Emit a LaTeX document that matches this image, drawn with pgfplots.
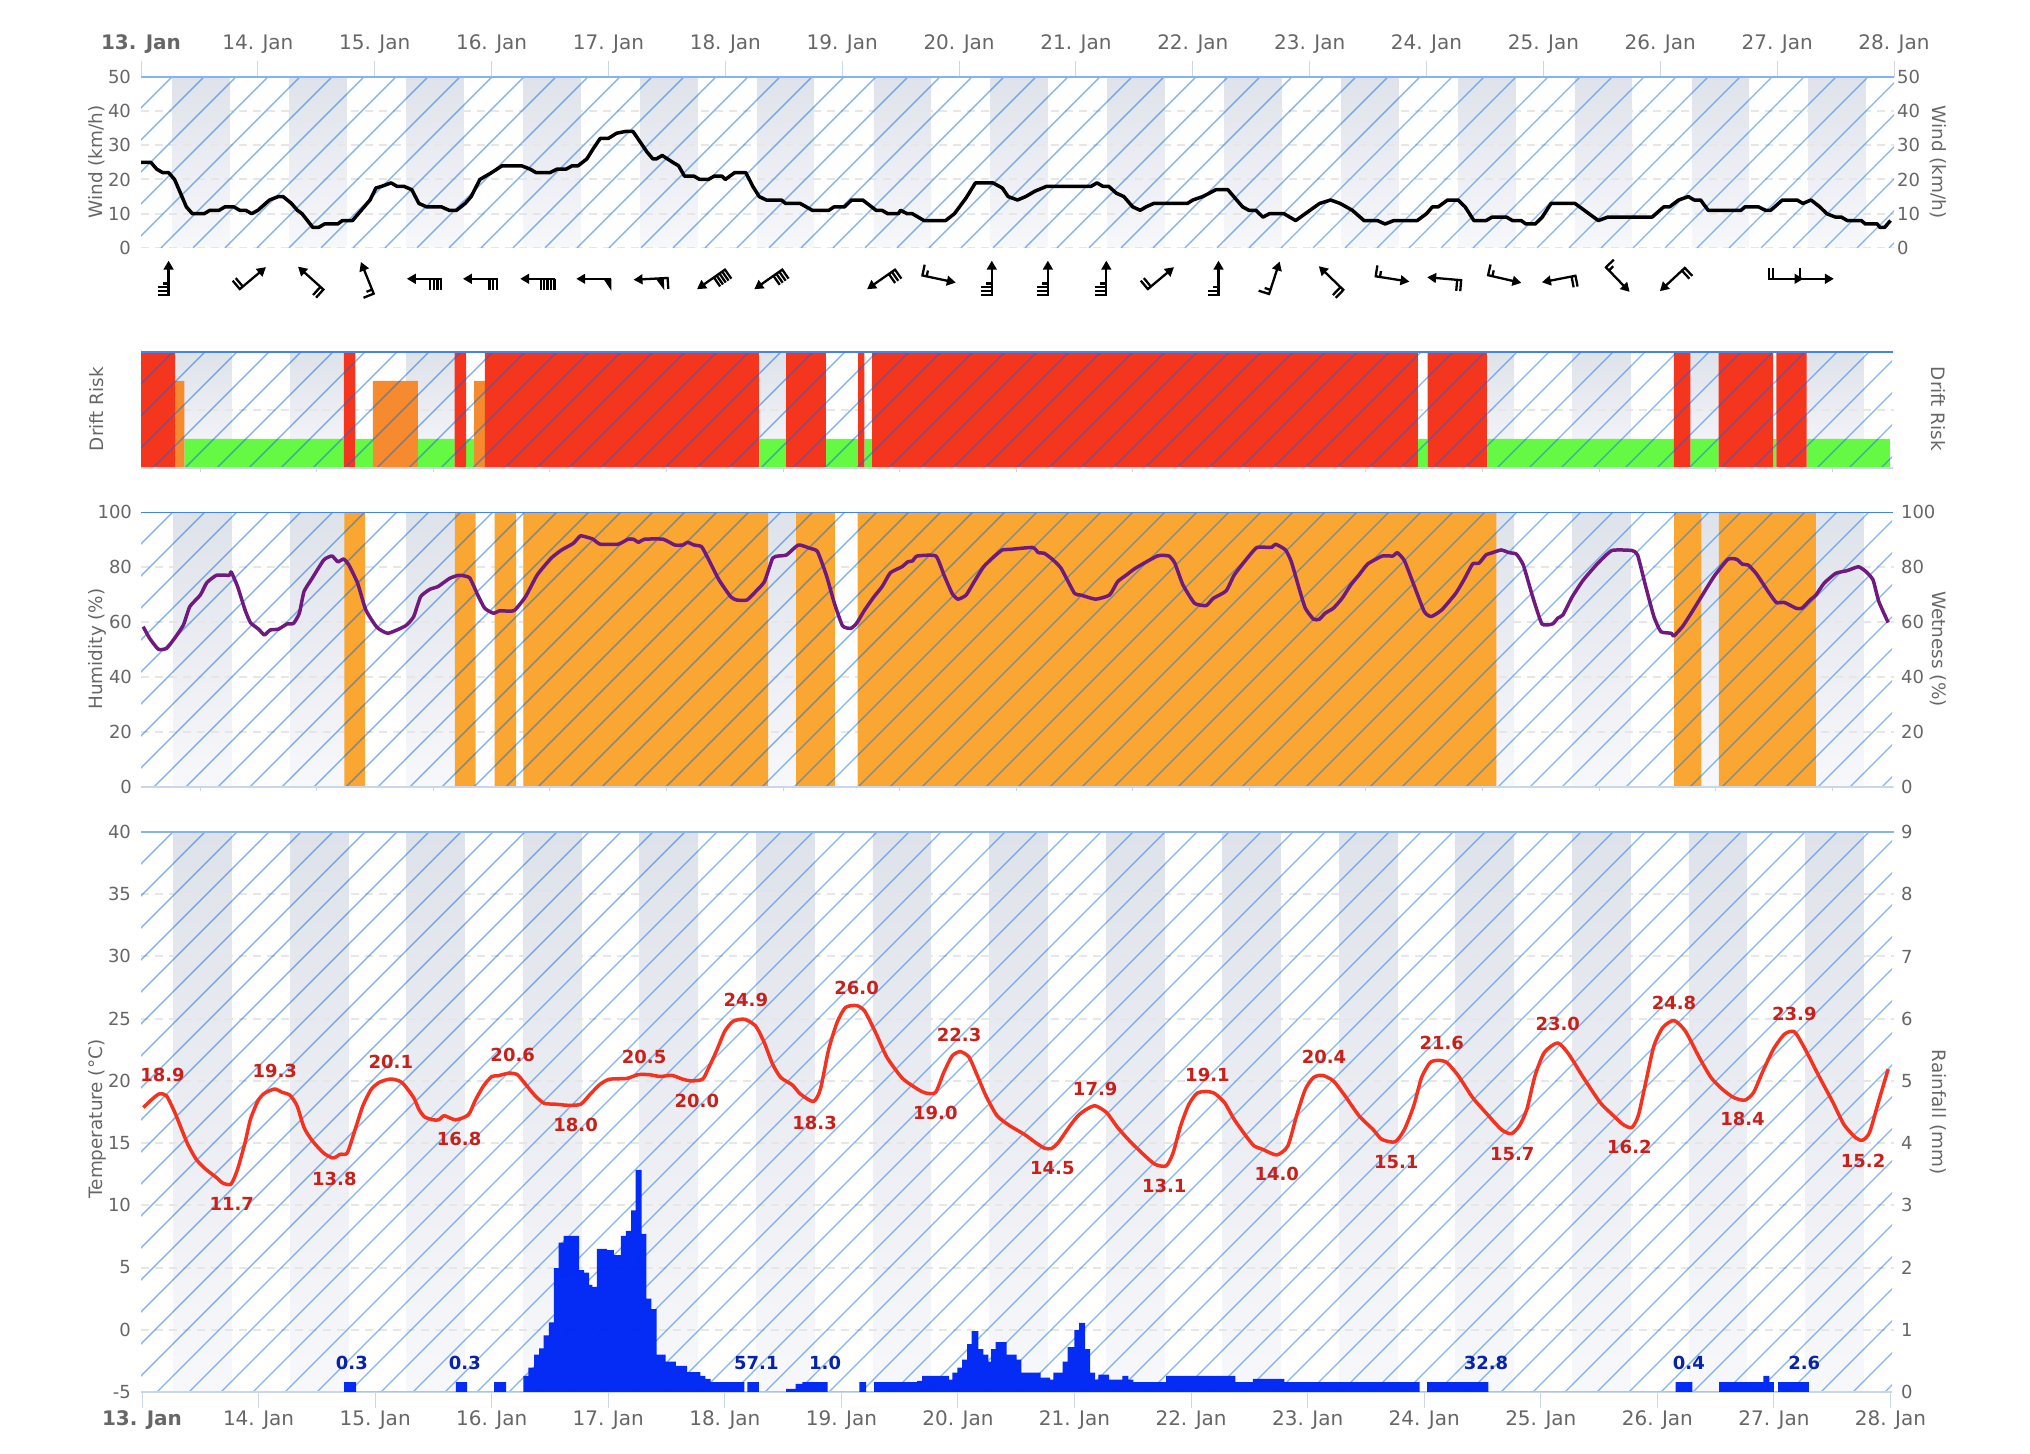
\documentclass[border=0pt]{standalone}
\usepackage{fontspec}
\setmainfont{DejaVu Sans}
\usepackage{pgfplots}
\pgfplotsset{compat=1.18}
\definecolor{bandtop}{HTML}{DEE2EA}
\definecolor{bandbot}{HTML}{F7F8FB}
\definecolor{gridc}{HTML}{E6E6E6}
\definecolor{axisc}{HTML}{CCD6EB}
\definecolor{tickc}{HTML}{666666}
\definecolor{hatchc}{HTML}{0B67E1}
\definecolor{topc}{HTML}{85B3F0}
\definecolor{topd}{HTML}{3F84EF}
\definecolor{redbar}{HTML}{F4361F}
\definecolor{orbar}{HTML}{F58A2E}
\definecolor{grbar}{HTML}{66F943}
\definecolor{orwet}{HTML}{F9A632}
\definecolor{rainc}{HTML}{0028F5}
\definecolor{rainl}{HTML}{0A22A8}
\definecolor{templ}{HTML}{F5311F}
\definecolor{tempt}{HTML}{C8201A}
\definecolor{humc}{HTML}{6F1A80}

\newcommand\tickfont{\fontsize{10}{12}\selectfont}
\newcommand\ynumfont{\fontsize{9}{11}\selectfont}
\tikzset{
  pix/.style={x=0.5pt,y=-0.5pt,shift={(0pt,727pt)}},
  hatchline/.style={draw=hatchc,opacity=0.5,line width=0.7pt},
}
\pgfplotsset{
  panel/.style={
    scale only axis,width=876.5pt,anchor=south west,
    xmin=-0.0086,xmax=15.03,
    axis line style={draw=none},
    tick align=outside,
    major tick length=2pt,
    xtick={0.5,1.5,...,14.5},xticklabels={},
    xtick pos=bottom,ytick pos=left,
    x tick style={draw=axisc,line width=0.5pt},
    y tick style={draw=none},
    x tick label style={font=\tickfont,text=tickc},
    y tick label style={font=\ynumfont,text=tickc},
    /pgf/number format/assume math mode=true,
  },
  over/.style={
    scale only axis,width=876.5pt,anchor=south west,
    xmin=-0.0086,xmax=15.03,
    axis line style={draw=none},
    tick align=outside,major tick length=2pt,
    xtick=\empty,
    y tick style={draw=none},
    y tick label style={font=\ynumfont,text=tickc},
    /pgf/number format/assume math mode=true,
    clip=false,
  },
  gridl/.style={draw=gridc,line width=1pt,dash pattern=on 4pt off 3pt,forget plot},
  dates/.style={xtick={0,...,15},
    xticklabels={\textbf{13. Jan},14. Jan,15. Jan,16. Jan,17. Jan,18. Jan,19. Jan,20. Jan,21. Jan,22. Jan,23. Jan,24. Jan,25. Jan,26. Jan,27. Jan,28. Jan}},
}
\newcommand\bands[4]{\pgfplotsinvokeforeach{0,...,14}{%
  \shade[top color=bandtop,bottom color=bandbot] (axis cs:##1.#3,#1) rectangle (axis cs:##1.#4,#2);}}
\newcommand\gridat[3]{\pgfplotsinvokeforeach{#1}{%
  \addplot[gridl] coordinates {(#2,##1) (#3,##1)};}}
\newcommand\hatch[6]{\begin{scope}[pix]
  \clip (#1,#3) rectangle (#2,#4);
  \foreach \c [evaluate=\c as \xa using \c-#3, evaluate=\c as \xb using \c-#4] in {#5,...,#6}
    {\draw[hatchline] (\xa,#3) -- (\xb,#4);}
\end{scope}}

% wind barbs, drawn pointing up, centred on the shaft
\newcommand\barbmark[3]{\pgfdeclareplotmark{#1}{%
  \pgfpathmoveto{\pgfqpoint{0pt}{-8.5pt}}\pgfpathlineto{\pgfqpoint{0pt}{6pt}}#2\pgfusepathqstroke
  \pgfpathmoveto{\pgfqpoint{0pt}{9pt}}\pgfpathlineto{\pgfqpoint{-2.6pt}{4.6pt}}\pgfpathlineto{\pgfqpoint{2.6pt}{4.6pt}}\pgfpathclose
  #3\pgfusepathqfill}}
\newcommand\lng[1]{\pgfpathmoveto{\pgfqpoint{0pt}{#1pt}}\pgfpathlineto{\pgfqpoint{-5.5pt}{#1pt}}}
\newcommand\shrt[1]{\pgfpathmoveto{\pgfqpoint{0pt}{#1pt}}\pgfpathlineto{\pgfqpoint{-3pt}{#1pt}}}
\newcommand\penn[3]{\pgfpathmoveto{\pgfqpoint{0pt}{#1pt}}\pgfpathlineto{\pgfqpoint{-6pt}{#2pt}}\pgfpathlineto{\pgfqpoint{0pt}{#3pt}}\pgfpathclose}
\barbmark{b1}{\lng{-8}}{}
\barbmark{b1s}{\lng{-8}\shrt{-5.8}}{}
\barbmark{b2}{\lng{-8}\lng{-6}}{}
\barbmark{b2s}{\lng{-8}\lng{-6}\shrt{-4}}{}
\barbmark{b3}{\lng{-8}\lng{-6.1}\lng{-4.2}}{}
\barbmark{b3s}{\lng{-8}\lng{-6.1}\lng{-4.2}\shrt{-2.3}}{}
\barbmark{b4}{\lng{-8}\lng{-6.2}\lng{-4.4}\lng{-2.6}}{}
\barbmark{b5}{\lng{-8}\lng{-6.3}\lng{-4.6}\lng{-2.9}\lng{-1.2}}{}
\barbmark{bp}{}{\penn{-8.5}{-8.5}{-4.5}}
\barbmark{b1p}{\lng{-8}}{\penn{-6}{-6}{-2}}
\newcommand\barb[3]{\addplot[only marks,mark=#2,
  mark options={rotate=#3,solid,draw=black,fill=black,line width=1.15pt}] coordinates {(#1,-9)};}

\begin{document}
\begin{tikzpicture}
\path[pix] (0,0) rectangle (2030,1454);

% ---- wind
\begin{axis}[panel,dates,at={(70.5pt,603pt)},height=85.65pt,xmin=0,xmax=15,ymin=0,ymax=50,
  major tick length=8pt,xtick pos=top,xticklabel pos=top,
  ytick={0,10,20,30,40,50},
  yticklabel style={xshift=6.5pt},xticklabel style={yshift=0pt}]
\bands{0}{50}{27}{76}
\gridat{0,10,20,30,40}{0}{15}
\end{axis}
\hatch{141}{1894}{76.7}{248}{217,249}{2142}
\draw[pix,draw=topc,line width=1pt] (141,76.7) -- (1894,76.7);
\begin{axis}[over,at={(70.5pt,603pt)},height=85.65pt,xmin=0,xmax=15,ymin=0,ymax=50,
  ytick={0,10,20,30,40,50},ytick pos=right,yticklabel pos=right,yticklabel style={xshift=-4pt}]
\addplot[black,line width=1.75pt,line join=round] coordinates {
(0,25)(.084,25)(.135,23)(.185,22)(.236,22)(.287,20)(.338,16)(.388,12)(.44,10)(.54,10)(.59,11)(.668,11)(.718,12)(.794,12)(.845,11)(.896,11)(.947,10)(1,11)(1.1,14)(1.175,15)(1.216,15)(1.287,13)(1.338,11)(1.378,10)(1.47,6)(1.52,6)(1.57,7)(1.683,7)(1.723,8)(1.81,8)(1.86,10)(1.91,12)(1.96,14)(2.01,17.5)(2.06,18)(2.14,19)(2.19,18)(2.25,18)(2.317,17)(2.378,13)(2.444,12)(2.57,12)(2.637,11)(2.7,11)(2.774,13)(2.825,15)(2.9,20)(3,22)(3.09,24)(3.256,24)(3.33,23)(3.38,22)(3.5,22)(3.56,23)(3.637,23)(3.69,24)(3.74,24)(3.815,26)(3.87,29)(3.93,32)(4,32)(4.07,33.5)(4.145,34)(4.21,34)(4.27,31)(4.33,28)(4.38,26)(4.41,26)(4.46,27)(4.55,25)(4.6,24)(4.65,21)(4.73,21)(4.78,20)(4.855,20)(4.906,21)(4.97,21)(5,20)(5.08,22)(5.175,22)(5.235,18)(5.29,15)(5.35,14)(5.48,14)(5.515,13)(5.64,13)(5.744,11)(5.886,11)(5.93,12)(6.02,12)(6.08,14)(6.175,14)(6.29,11)(6.34,11)(6.39,10)(6.48,10)(6.5,11)(6.555,10)(6.6,10)(6.7,8)(6.885,8)(6.96,10)(7.06,14.6)(7.14,19)(7.29,19)(7.37,17.5)(7.42,15)(7.5,14)(7.57,15)(7.65,16.6)(7.75,18)(8.13,18)(8.18,19)(8.23,18)(8.28,18)(8.345,16)(8.41,15)(8.486,12)(8.55,11)(8.6,12)(8.665,13)(8.954,13)(9,14)(9.085,15)(9.197,17)(9.3,17)(9.35,15)(9.426,12)(9.48,11)(9.54,11)(9.6,9)(9.655,10)(9.78,10)(9.88,8)(10.085,13)(10.18,14)(10.26,13)(10.365,11)(10.465,8)(10.58,8)(10.645,7)(10.72,8)(10.92,8)(11,10)(11.05,12)(11.1,12)(11.18,14)(11.27,14)(11.33,12)(11.405,8)(11.51,8)(11.56,9)(11.685,9)(11.735,8)(11.81,8)(11.85,7)(11.93,7)(11.99,9)(12.065,13)(12.27,13)(12.47,8)(12.55,9)(12.93,9)(13.03,12)(13.08,12)(13.157,14)(13.24,15)(13.29,14)(13.345,14)(13.41,11)(13.69,11)(13.725,12)(13.84,12)(13.9,11)(13.945,11)(14.045,14)(14.17,14)(14.22,13)(14.29,14)(14.365,12)(14.425,10)(14.5,9)(14.55,9)(14.6,8)(14.72,8)(14.755,7)(14.857,7)(14.88,6)(14.92,6)(14.97,8)
};
\barb{.236}{b3s}{0}
\barb{.95}{b2}{-50}
\barb{1.459}{b2}{48}
\barb{1.94}{b1s}{22}
\barb{2.43}{b4}{90}
\barb{2.91}{b3}{90}
\barb{3.40}{b5}{90}
\barb{3.88}{bp}{90}
\barb{4.37}{b1p}{93}
\barb{4.885}{b5}{125}
\barb{5.375}{b4}{125}
\barb{6.34}{b3}{125}
\barb{6.82}{b1s}{-102}
\barb{7.28}{b3s}{0}
\barb{7.76}{b3s}{0}
\barb{8.26}{b3s}{0}
\barb{8.72}{b2}{-50}
\barb{9.22}{b2s}{0}
\barb{9.695}{b1s}{-18}
\barb{10.19}{b2}{46}
\barb{10.7}{b1s}{-99}
\barb{11.16}{b2}{85}
\barb{11.66}{b1s}{-103}
\barb{12.14}{b2}{101}
\barb{12.63}{b1s}{-136}
\barb{13.11}{b2}{133}
\barb{14.07}{b2}{-90}
\barb{14.33}{b1}{-90}
\end{axis}

% ---- drift risk
\begin{axis}[panel,at={(70.5pt,493pt)},height=58pt,ymin=0,ymax=4,ytick=\empty]
\bands{0}{4}{27}{77}
\gridat{2}{-0.0086}{15.03}
\addplot[const plot mark left,fill=grbar,draw=none] coordinates {
(.364,1)(1.732,0)(1.831,1)(1.981,0)(2.367,1)(2.682,0)(2.781,1)(2.85,0)(5.293,1)(5.525,0)(5.866,1)(6.143,0)(6.197,1)(6.263,0)(10.945,1)(11.03,0)(11.537,1)(13.142,0)(13.282,1)(13.525,0)(13.993,1)(14.02,0)(14.28,1)(14.995,0)} \closedcycle;
\addplot[const plot mark left,fill=orbar,draw=none] coordinates {
(.284,3)(.364,0)(1.981,3)(2.367,0)(2.85,3)(2.942,0)} \closedcycle;
\addplot[const plot mark left,fill=redbar,draw=none] coordinates {
(-.0086,4)(.284,0)(1.732,4)(1.831,0)(2.682,4)(2.781,0)(2.942,4)(5.293,0)(5.525,4)(5.866,0)(6.143,4)(6.197,0)(6.263,4)(10.945,0)(11.03,4)(11.537,0)(13.142,4)(13.282,0)(13.525,4)(13.993,0)(14.02,4)(14.28,0)} \closedcycle;
\end{axis}
\hatch{141}{1892}{352}{468}{493,525}{2362}
\draw[pix,draw=topd,line width=.75pt] (141,352) -- (1893,352);
\draw[pix,draw=axisc,line width=1pt] (141,468) -- (1893,468);

% ---- humidity / wetness
\begin{axis}[panel,at={(70.5pt,333.35pt)},height=137.5pt,ymin=0,ymax=100,
  ytick={0,20,40,60,80,100},yticklabel style={xshift=1pt}]
\bands{0}{100}{27}{77}
\gridat{0,20,40,60,80}{-0.0086}{15.03}
\addplot[const plot mark left,fill=orwet,draw=none] coordinates {
(1.736,100)(1.914,0)(2.684,100)(2.863,0)(3.026,100)(3.209,0)(3.272,100)(5.371,0)(5.612,100)(5.944,0)(6.14,100)(11.619,0)(13.143,100)(13.377,0)(13.528,100)(14.36,0)} \closedcycle;
\end{axis}
\hatch{141}{1892}{512.3}{787.3}{653,685}{2682}
\draw[pix,draw=topd,line width=.75pt] (141,512.3) -- (1893,512.3);
\draw[pix,draw=axisc,line width=1pt] (141,787.3) -- (1893,787.3);
\begin{axis}[over,at={(70.5pt,333.35pt)},height=137.5pt,ymin=0,ymax=100,
  ytick={0,20,40,60,80,100},ytick pos=right,yticklabel pos=right,yticklabel style={xshift=-2pt}]
\addplot[humc,line width=1.75pt,line join=round,smooth,tension=.3] coordinates {
(.01,58.4)(.065,54.2)(.14,50.2)(.21,50.5)(.28,54.2)(.355,59)(.41,65.7)(.5,69.9)(.556,74.4)(.64,77.1)(.75,77.1)(.765,78.3)(.82,73)(.884,64.5)(.93,59.9)(1,57.5)(1.05,55.4)(1.1,57.2)(1.17,57.5)(1.245,59.4)(1.3,59.6)(1.35,63.3)(1.39,71.2)(1.46,76)(1.56,82.7)(1.63,84.1)(1.68,82)(1.73,83)(1.775,80.8)(1.85,74.2)(1.92,64.5)(2.015,58.2)(2.11,56)(2.26,58.7)(2.33,62)(2.39,69.3)(2.47,72)(2.54,73)(2.64,76)(2.72,77.1)(2.81,76.2)(2.88,69.9)(2.94,65.1)(3.015,63.3)(3.07,64.2)(3.19,64.2)(3.29,69.3)(3.39,77.2)(3.51,83.3)(3.6,86.3)(3.7,88.7)(3.76,91.4)(3.82,90.9)(3.87,90.2)(3.93,88.4)(4.085,88.4)(4.17,90.2)(4.215,90.2)(4.26,89.1)(4.31,90.2)(4.47,90.2)(4.57,88.1)(4.64,88.1)(4.68,89.1)(4.735,88.1)(4.8,87.5)(4.855,83.3)(4.95,75.4)(5.05,69.3)(5.1,68.1)(5.19,68.1)(5.265,71.2)(5.34,74.8)(5.41,83.3)(5.46,84.1)(5.53,84.5)(5.63,88.1)(5.73,86.9)(5.795,85.7)(5.87,77.2)(5.94,66.9)(6.01,58.7)(6.08,57.8)(6.13,59.6)(6.2,64.5)(6.28,69.3)(6.35,73)(6.42,78)(6.52,80.2)(6.57,82)(6.61,82.3)(6.65,84.1)(6.81,84.1)(6.88,77.2)(6.95,70.5)(7,68.4)(7.07,69.9)(7.14,74.8)(7.22,80.2)(7.31,83.9)(7.38,86.3)(7.447,86.5)(7.64,87.2)(7.69,85.3)(7.74,85.1)(7.81,82.9)(7.885,79.6)(8,70.5)(8.055,69.9)(8.18,68.4)(8.3,69.9)(8.37,74.8)(8.445,77.2)(8.52,79.6)(8.71,84.1)(8.81,84.1)(8.86,81.5)(8.93,73.6)(9.03,66.9)(9.13,66.1)(9.19,68.7)(9.3,71.4)(9.37,77.2)(9.47,82.7)(9.565,87.2)(9.69,87.2)(9.725,88.4)(9.81,86.3)(9.86,82)(9.93,71.8)(9.98,65.1)(10.05,61.1)(10.1,61.1)(10.15,63.3)(10.22,65.1)(10.295,68.7)(10.37,73.6)(10.44,77.2)(10.515,81.2)(10.64,84.1)(10.73,84.1)(10.77,85.3)(10.83,82.4)(10.9,74.8)(11,63.9)(11.06,62.1)(11.15,64.5)(11.27,70.5)(11.34,75.4)(11.415,81.2)(11.47,81.5)(11.53,84.5)(11.585,85.3)(11.66,86.3)(11.73,85.3)(11.79,84.8)(11.85,80.8)(11.93,69.3)(12.01,59.4)(12.1,59.4)(12.145,61.5)(12.19,62.7)(12.27,69.3)(12.365,75.4)(12.49,81.5)(12.61,86.1)(12.78,86.1)(12.83,84.5)(12.9,73)(12.97,62.1)(13.03,56.6)(13.12,56)(13.14,55)(13.215,58.4)(13.29,63.3)(13.36,68.1)(13.485,76.6)(13.605,82.9)(13.68,82.9)(13.73,81.1)(13.78,80.8)(13.85,77.6)(13.95,71.2)(14.02,67.2)(14.09,67.2)(14.19,65.1)(14.24,65.1)(14.31,68.1)(14.36,69.9)(14.43,74.2)(14.53,77.8)(14.63,78.8)(14.725,80.2)(14.79,78.4)(14.85,75.4)(14.9,67.5)(14.98,59.9)
};
\end{axis}

% ---- temperature / rainfall
\begin{axis}[panel,dates,at={(70.5pt,31pt)},height=280pt,ymin=-5,ymax=40,
  major tick length=8pt,
  ytick={-5,0,5,10,15,20,25,30,35,40},yticklabel style={xshift=6.5pt},xticklabel style={yshift=2pt}]
\bands{-5}{40}{27}{77}
\gridat{0,5,10,15,20,25,30,35,40}{-0.0086}{15.03}
\end{axis}
\hatch{141}{1892}{832}{1392}{973,1005}{3286}
\draw[pix,draw=topc,line width=1pt] (141,832) -- (1894,832);
\draw[pix,draw=axisc,line width=1pt] (141,1392) -- (1892,1392);
\begin{axis}[over,at={(70.5pt,31pt)},height=280pt,ymin=0,ymax=9,
  ytick={0,1,2,3,4,5,6,7,8,9},ytick pos=right,yticklabel pos=right,yticklabel style={xshift=-2pt}]
\addplot[const plot mark left,fill=rainc,draw=none,fill opacity=.98] coordinates {
(1.733,.16)(1.836,0)(2.693,.16)(2.79,0)(3.02,.16)(3.123,0)(3.271,.26)(3.315,.39)(3.363,.6)(3.407,.7)(3.446,.91)(3.49,1.12)(3.534,1.99)(3.573,2.4)(3.617,2.51)(3.749,1.96)(3.792,1.92)(3.836,1.72)(3.863,1.69)(3.902,2.3)(3.99,2.28)(4.047,2.2)(4.108,2.51)(4.151,2.59)(4.195,2.92)(4.234,3.57)(4.287,2.54)(4.326,1.5)(4.37,1.33)(4.414,.6)(4.493,.49)(4.58,.42)(4.676,.32)(4.79,.26)(4.834,.21)(4.878,.16)(5.167,0)(5.193,.16)(5.293,0)(5.525,.05)(5.608,.13)(5.665,.16)(5.882,0)(6.154,.16)(6.211,0)(6.28,.16)(6.649,.18)(6.692,.26)(6.923,.2)(6.952,.31)(6.995,.39)(7.035,.52)(7.078,.77)(7.118,.98)(7.175,.69)(7.218,.6)(7.261,.49)(7.284,.69)(7.324,.8)(7.418,.6)(7.504,.52)(7.544,.31)(7.71,.23)(7.79,.2)(7.818,.31)(7.898,.49)(7.941,.72)(7.998,1)(8.039,1.11)(8.09,.69)(8.133,.31)(8.176,.2)(8.204,.28)(8.296,.2)(8.41,.26)(8.462,.2)(8.505,.16)(8.785,.26)(9.38,.16)(9.53,.21)(9.8,.16)(10.96,0)(11.025,.16)(11.55,0)(13.157,.16)(13.3,0)(13.53,.16)(13.91,.26)(13.96,.16)(14,0)(14.035,.16)(14.3,0)} \closedcycle;
\tikzset{rl/.style={font=\fontsize{9}{11}\selectfont\bfseries,text=rainl,inner sep=0pt}}
\node[rl] at (axis cs:1.80,.47) {0.3};
\node[rl] at (axis cs:2.77,.47) {0.3};
\node[rl] at (axis cs:5.27,.47) {57.1};
\node[rl] at (axis cs:5.86,.47) {1.0};
\node[rl] at (axis cs:11.53,.47) {32.8};
\node[rl] at (axis cs:13.27,.47) {0.4};
\node[rl] at (axis cs:14.26,.47) {2.6};
\end{axis}
\begin{axis}[over,at={(70.5pt,31pt)},height=280pt,ymin=-5,ymax=40,ytick=\empty]
\addplot[templ,line width=1.75pt,line join=round,smooth,tension=.4] coordinates {
(.012,17.86)(.08,18.47)(.147,18.95)(.21,18.8)(.282,17.45)(.34,16.1)(.393,14.9)(.465,13.7)(.547,12.9)(.643,12.2)(.69,11.8)(.763,11.7)(.82,12.9)(.884,15.04)(.93,16.9)(.995,18.4)(1.05,19)(1.139,19.35)(1.197,19.1)(1.269,18.85)(1.33,18)(1.39,16.25)(1.46,15.2)(1.558,14.2)(1.64,13.8)(1.7,14.1)(1.76,14.2)(1.82,15.85)(1.895,18)(1.967,19.33)(2.04,19.9)(2.135,20.15)(2.23,19.87)(2.33,18.66)(2.376,17.7)(2.425,17.1)(2.497,16.87)(2.545,16.87)(2.593,17.2)(2.69,16.87)(2.8,17.27)(2.857,18.4)(2.93,19.6)(3,20.35)(3.05,20.4)(3.147,20.62)(3.22,20.5)(3.29,19.73)(3.373,18.8)(3.45,18.2)(3.556,18.12)(3.65,18.04)(3.763,18.12)(3.845,18.93)(3.93,19.73)(4.01,20.13)(4.16,20.2)(4.255,20.5)(4.35,20.5)(4.447,20.35)(4.543,20.45)(4.64,20.13)(4.71,20)(4.808,20.13)(4.856,20.94)(4.928,22.4)(5,24)(5.073,24.8)(5.17,24.95)(5.265,24.4)(5.338,23.08)(5.41,21.34)(5.48,20.27)(5.578,19.68)(5.65,18.93)(5.76,18.34)(5.82,19.33)(5.89,22.5)(5.963,24.7)(6.035,25.9)(6.13,26.05)(6.2,25.6)(6.3,23.75)(6.39,21.9)(6.517,20.27)(6.61,19.6)(6.71,19.06)(6.806,19.06)(6.878,20.67)(6.95,22)(7.02,22.35)(7.095,21.9)(7.167,20.4)(7.24,18.8)(7.335,17.2)(7.447,16.38)(7.57,15.7)(7.666,15.04)(7.74,14.6)(7.8,14.56)(7.86,15.04)(7.96,16.38)(8.03,17.2)(8.1,17.7)(8.177,18)(8.275,17.45)(8.37,16.25)(8.47,15.2)(8.59,14.1)(8.69,13.3)(8.786,13.17)(8.845,14.2)(8.91,16.38)(8.98,18.1)(9.05,19)(9.127,19.15)(9.2,19)(9.287,18.25)(9.37,16.9)(9.47,15.58)(9.54,14.78)(9.613,14.5)(9.735,14.05)(9.83,14.78)(9.905,17.2)(9.98,19.33)(10.05,20.27)(10.125,20.45)(10.22,20)(10.32,18.8)(10.44,17.2)(10.56,16.1)(10.636,15.3)(10.75,15.1)(10.83,16.1)(10.91,18)(10.977,20.27)(11.05,21.47)(11.12,21.65)(11.195,21.47)(11.293,20.4)(11.415,18.66)(11.54,17.32)(11.66,16.1)(11.746,15.75)(11.815,16.38)(11.88,17.7)(11.95,20.4)(12.03,22.28)(12.145,23.05)(12.24,22.14)(12.365,20.27)(12.51,18.25)(12.61,17.32)(12.705,16.5)(12.78,16.25)(12.836,17.2)(12.9,19.87)(12.97,22.8)(13.047,24.3)(13.143,24.85)(13.24,24)(13.36,21.87)(13.46,20.27)(13.557,19.33)(13.655,18.66)(13.75,18.45)(13.825,19.06)(13.9,20.67)(13.995,22.54)(14.09,23.75)(14.175,23.95)(14.26,22.68)(14.385,20.4)(14.507,18.25)(14.6,16.5)(14.7,15.44)(14.76,15.23)(14.82,15.85)(14.895,18.25)(14.98,20.94)
};
\tikzset{tl/.style={font=\fontsize{9}{11}\selectfont\bfseries,text=tempt,inner sep=0pt}}
\node[tl] at (axis cs:.176,20.46) {18.9};
\node[tl] at (axis cs:1.139,20.8) {19.3};
\node[tl] at (axis cs:2.135,21.55) {20.1};
\node[tl] at (axis cs:3.18,22.1) {20.6};
\node[tl] at (axis cs:4.307,21.96) {20.5};
\node[tl] at (axis cs:5.18,26.5) {24.9};
\node[tl] at (axis cs:6.13,27.5) {26.0};
\node[tl] at (axis cs:7.01,23.7) {22.3};
\node[tl] at (axis cs:.77,10.14) {11.7};
\node[tl] at (axis cs:1.65,12.15) {13.8};
\node[tl] at (axis cs:2.72,15.3) {16.8};
\node[tl] at (axis cs:3.72,16.46) {18.0};
\node[tl] at (axis cs:4.76,18.4) {20.0};
\node[tl] at (axis cs:5.77,16.65) {18.3};
\node[tl] at (axis cs:6.806,17.45) {19.0};
\node[tl] at (axis cs:7.81,13) {14.5};
\node[tl] at (axis cs:8.177,19.38) {17.9};
\node[tl] at (axis cs:8.77,11.56) {13.1};
\node[tl] at (axis cs:9.14,20.48) {19.1};
\node[tl] at (axis cs:9.735,12.5) {14.0};
\node[tl] at (axis cs:10.14,21.93) {20.4};
\node[tl] at (axis cs:10.76,13.44) {15.1};
\node[tl] at (axis cs:11.15,23.08) {21.6};
\node[tl] at (axis cs:11.755,14.1) {15.7};
\node[tl] at (axis cs:12.145,24.55) {23.0};
\node[tl] at (axis cs:12.76,14.72) {16.2};
\node[tl] at (axis cs:13.143,26.3) {24.8};
\node[tl] at (axis cs:13.73,16.92) {18.4};
\node[tl] at (axis cs:14.175,25.4) {23.9};
\node[tl] at (axis cs:14.765,13.57) {15.2};
\end{axis}

% ---- axis titles
\begin{scope}[pix,every node/.style={font=\fontsize{9.2}{11}\selectfont,text=tickc}]
\node[rotate=90] at (97,162) {Wind (km/h)};
\node[rotate=90] at (97,409) {Drift Risk};
\node[rotate=90] at (97,649) {Humidity (\%)};
\node[rotate=90] at (97,1119) {Temperature (°C)};
\node[rotate=-90] at (1938,162) {Wind (km/h)};
\node[rotate=-90] at (1938,409) {Drift Risk};
\node[rotate=-90] at (1938,649) {Wetness (\%)};
\node[rotate=-90] at (1938,1112) {Rainfall (mm)};
\end{scope}
\end{tikzpicture}
\end{document}
